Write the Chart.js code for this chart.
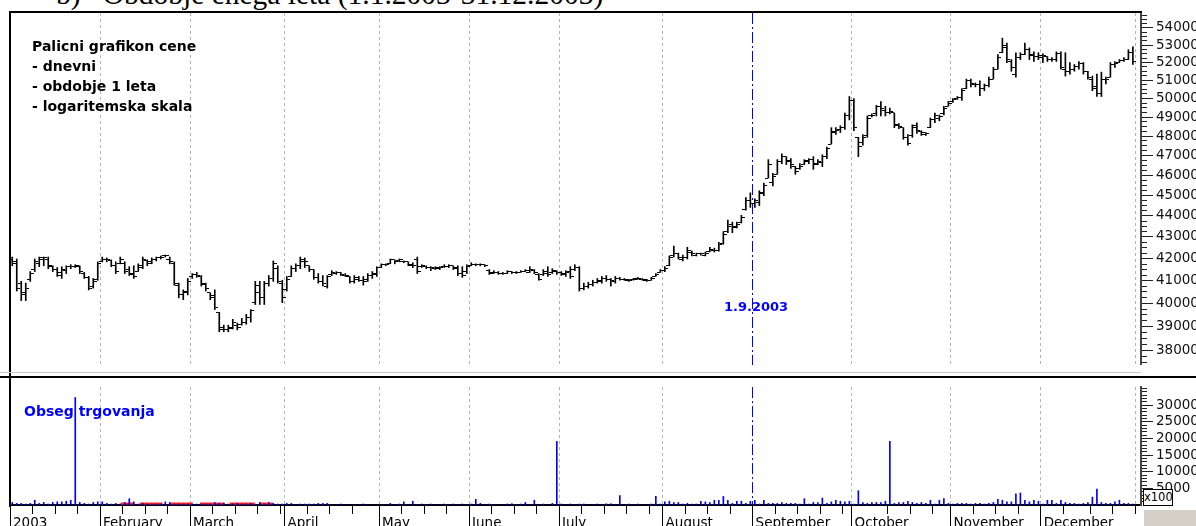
<!DOCTYPE html>
<html>
<head>
<meta charset="utf-8">
<script src="https://cdn.jsdelivr.net/npm/chart.js@4.4.1/dist/chart.umd.min.js"></script>
<style>
  html, body { margin: 0; padding: 0; background: #fff; }
  body { position: relative; width: 1196px; height: 526px; overflow: hidden; font-family: "DejaVu Sans", sans-serif; }
  canvas { position: absolute; left: 0; }
  #price { top: 0; }
  #volume { top: 376px; }
  .abs { position: absolute; white-space: pre; }
  #title { left: 56px; top: -22px; font: 29.5px "Liberation Serif", serif; color: #000; }
  #notes { left: 32px; top: 36px; font: bold 14px "DejaVu Sans", sans-serif; line-height: 20px; color: #000; }
  #volTitle { left: 24px; top: 403px; font: bold 14px "DejaVu Sans", sans-serif; color: #0000ff; }
  #eventText { left: 724px; top: 299px; font: bold 13px "DejaVu Sans", sans-serif; color: #0000ff; }
  .line { position: absolute; background: #000; }
  #scaleBox { left: 1143px; top: 489px; width: 28px; height: 15px; border: 1px solid #000; background: #fff; font: 11.5px "DejaVu Sans", sans-serif; line-height: 15px; text-align: center; }
  #corner { left: 1143px; top: 509px; width: 53px; height: 17px; background: #d4d0c8; border-top: 1px solid #fff; border-left: 1px solid #fff; }
</style>
</head>
<body>
<div id="title" class="abs">b)   Obdobje enega leta (1.1.2003-31.12.2003)</div>
<canvas id="price" width="1196" height="376"></canvas>
<canvas id="volume" width="1196" height="150"></canvas>
<div class="line" style="left:9px;top:11px;width:1133px;height:2px"></div>
<div class="line" style="left:9px;top:11px;width:2px;height:496px"></div>
<div class="line" style="left:0px;top:376px;width:1196px;height:2px;background:#000"></div>
<div class="line" style="left:0px;top:372px;width:1141px;height:1px;background:#c8c8c8"></div>
<div id="notes" class="abs">Palicni grafikon cene
- dnevni
- obdobje 1 leta
- logaritemska skala</div>
<div id="volTitle" class="abs">Obseg trgovanja</div>
<div id="eventText" class="abs">1.9.2003</div>
<div id="scaleBox" class="abs">x100</div>
<div id="corner" class="abs"></div>
<script>
// Trading-day index of the first session of each month, with the axis label
const monthStarts = [0, 20, 40, 61, 82, 102, 122, 145, 165, 187, 209, 229];
const monthNames = ['2003', 'February', 'March', 'April', 'May', 'June', 'July',
  'August', 'September', 'October', 'November', 'December'];
// Weekly tick positions on the time axis (trading-day index)
const weekTicks = [5, 10, 15, 25, 30, 35, 45, 50, 55, 60, 66, 71, 76, 87, 92, 97, 107, 112, 117,
  127, 132, 137, 142, 150, 155, 160, 170, 175, 180, 185, 195, 200, 205, 214, 219, 224, 234, 240, 245];
const yearEnd = 250;
const eventDay = 165;   // 1.9.2003

// Daily prices (OHLC)
const open = [
  41980,41760,40890,40370,41060,41500,41760,42030,41940,41630,41500,41230,41450,41630,41630,41630,41320,41150,40720,41060,
  41850,41980,41890,41670,41760,41760,41500,41280,41410,41590,41890,41850,41940,42030,42120,41980,41760,40800,40370,40500,
  41190,41280,41190,40840,40460,40330,39610,38980,38860,38980,39060,39100,39190,39400,40030,40460,40240,40890,41100,41540,40890,
  40590,41190,41540,41670,41850,41670,41500,41150,40970,40760,41280,41320,41370,41230,41190,40970,41060,41020,41060,41230,41280,
  41590,41720,41760,41940,41890,41850,41850,41670,41980,41630,41630,41590,41540,41590,41630,41630,41670,41540,41320,41410,
  41670,41720,41720,41720,41450,41370,41370,41320,41320,41410,41370,41370,41410,41370,41450,41280,41280,41320,41370,41410,
  41370,41280,41410,41500,41590,40670,40760,40840,40930,40970,41100,41060,40970,41100,41060,41020,41060,41100,41060,41020,41020,41190,41370,
  41450,41670,42120,42210,41980,42030,42300,42160,42210,42160,42340,42390,42390,42700,43250,43570,43480,43660,44310,44740,
  44590,44640,45120,45850,45650,46040,46680,46930,46680,46430,46340,46530,46730,46780,46580,46630,46930,47580,48230,48340,48440,49060,
  49900,47930,47680,48030,49060,49170,49580,49370,49270,49220,48590,48440,47930,48030,48540,48230,48080,48440,48850,48950,49170,49580,
  49840,50000,50060,50540,50970,50750,50750,50540,50700,51070,51620,52560,52960,52060,51350,52280,52450,52730,52450,52340,
  52280,52340,52170,52170,52500,51620,51510,51620,51780,51950,51510,51070,50640,50270,51070,51180,51890,52000,52110,52170,52560
];
const high = [
  42070,41980,40970,40890,41410,41980,42070,42070,42070,41670,41590,41630,41670,41720,41720,41670,41370,41190,41100,41850,
  42070,42030,41940,41850,42070,41850,41630,41670,41760,42070,41940,42030,42070,42120,42160,42070,41850,40890,40590,41100,
  41320,41370,41230,40890,40460,40590,39610,39060,39060,39310,39150,39350,39520,39730,40970,40970,40970,41230,41890,41670,41020,
  41190,41670,41760,42070,42030,41670,41500,41320,41230,41230,41450,41410,41370,41320,41190,41230,41190,41190,41320,41410,41630,
  41760,41760,41980,41940,41980,41890,41850,41810,42070,41720,41670,41630,41630,41630,41720,41720,41670,41670,41630,41720,
  41810,41760,41760,41720,41500,41450,41410,41370,41450,41410,41410,41450,41500,41630,41500,41320,41500,41630,41540,41450,
  41410,41450,41630,41720,41630,40890,40930,41020,41100,41190,41230,41100,41190,41150,41100,41060,41100,41150,41100,41060,41150,41320,41500,
  41630,42120,42570,42250,42160,42520,42340,42250,42250,42300,42520,42480,42750,43250,43800,43700,43700,44030,44880,45120,
  44830,45220,45600,46780,46090,46780,47080,46930,46830,46430,46580,46780,46830,46930,46780,47030,47430,48440,48440,48540,49220,50110,
  50000,47930,48080,49060,49170,49630,49840,49580,49480,49220,48650,48440,48080,48590,48700,48280,48180,48950,49220,49110,49580,49840,
  50000,50110,50540,51070,51070,50860,50970,50800,51180,51730,52450,53400,53120,52170,52560,52560,53120,52840,52610,52560,
  52500,52340,52280,52610,52610,52560,52000,51890,52060,52000,51510,51240,51350,51460,51180,52000,52060,52170,52280,52730,52900
];
const low = [
  41670,40540,40120,40120,40970,41410,41630,41670,41540,41410,41190,41100,41320,41540,41590,41320,41100,40590,40670,41020,
  41850,41850,41630,41320,41760,41320,41230,41100,41410,41540,41670,41760,41890,41980,42070,41760,40800,40240,40160,40370,
  41100,41150,40760,40540,40160,39730,38780,38780,38780,38900,38860,39060,39100,39190,39950,39950,39950,40760,40970,40890,40030,
  40540,41190,41410,41540,41590,41410,41060,40890,40760,40670,41230,41280,41230,41190,40890,40890,40970,40800,40970,41100,41190,
  41590,41670,41760,41760,41850,41810,41670,41590,41320,41590,41540,41450,41500,41500,41590,41590,41500,41230,41150,41320,
  41670,41670,41670,41630,41280,41320,41280,41280,41320,41320,41320,41370,41410,41370,41320,41020,41230,41190,41320,41280,
  41230,41190,41100,41450,40540,40590,40670,40760,40890,40890,40970,40760,40890,41020,41020,40970,41020,41060,41020,40970,41020,41190,41370,
  41410,41670,42070,41980,41890,41980,42120,42120,42160,42120,42300,42300,42340,42660,43200,43200,43430,43660,44270,44410,
  44410,44500,44980,45850,45460,46040,46580,46530,46340,46040,46290,46530,46580,46290,46530,46430,46830,47580,48080,48180,48340,48850,
  48280,46930,47530,47930,49010,49060,49060,49060,49170,48440,48390,47830,47530,47930,48130,48030,48030,48440,48700,48800,49110,49580,
  49790,49950,49900,50540,50640,50640,50160,50430,50640,51070,51620,52560,52000,51510,51180,52170,52450,52170,52060,52170,
  52000,52060,52060,52060,51620,51240,51350,51510,51620,51350,51070,50430,50110,50110,50800,51180,51730,52000,52060,52170,51890
];
const close = [
  41850,40630,40460,40670,41320,41850,41980,42030,41670,41500,41370,41500,41630,41630,41670,41410,41150,40670,40970,41760,
  41980,41940,41670,41410,41940,41410,41320,41190,41670,41980,41760,41940,42030,42070,42120,41850,40890,40370,40460,40970,
  41280,41230,40890,40630,40240,39820,38860,38860,38900,39190,38980,39190,39400,39690,40800,40240,40890,41100,41760,40970,40240,
  41060,41540,41670,41940,41850,41500,41150,40970,40890,41190,41370,41370,41280,41230,40970,41150,41020,40970,41230,41320,41590,
  41720,41720,41940,41850,41940,41850,41720,41670,41410,41670,41590,41590,41540,41590,41630,41670,41590,41320,41230,41630,
  41720,41720,41720,41670,41320,41370,41320,41320,41410,41370,41370,41410,41450,41500,41370,41060,41410,41280,41450,41370,
  41320,41370,41190,41590,40630,40760,40840,40930,41020,41100,41060,41020,41100,41060,41060,41020,41060,41100,41060,41020,41100,41280,41450,
  41540,42030,42210,42070,42070,42390,42210,42210,42210,42250,42430,42390,42660,43110,43480,43430,43610,43940,44740,44590,
  44740,45070,45460,46530,45940,46680,46930,46730,46530,46190,46430,46680,46780,46530,46680,46930,47330,48180,48280,48440,49060,49900,
  48440,47430,47930,48950,49110,49580,49480,49270,49320,48540,48490,47930,47630,48440,48280,48180,48130,48850,49110,49010,49480,49740,
  49950,50060,50430,50970,50800,50750,50540,50700,51070,51620,52280,52840,52170,51730,52280,52450,52730,52390,52340,52390,
  52390,52170,52170,52500,51730,51510,51620,51780,51950,51510,51180,50540,50270,51070,51070,51890,51950,52110,52170,52560,52060
];
// Daily turnover, in hundreds
const volume = [
  760,480,480,290,480,1430,480,760,290,760,950,950,1140,1430,32300,760,480,290,760,950,
  950,480,290,480,290,760,1900,950,290,480,290,290,290,290,950,760,290,290,290,290,
  290,290,290,290,290,760,480,480,290,290,480,290,290,480,290,760,290,760,480,290,290,
  480,480,0,290,290,290,290,480,480,480,0,0,290,0,0,0,0,290,0,0,0,
  0,0,480,0,290,950,0,1140,0,290,0,290,0,0,290,0,290,0,290,0,
  290,1710,480,0,290,0,0,0,290,380,0,290,760,0,1430,0,290,0,480,19100,
  290,0,290,0,290,290,0,0,290,0,380,380,0,2860,0,290,0,290,0,0,290,2570,290,
  950,1140,760,760,290,480,290,290,1140,950,760,1430,1430,2570,1430,480,1140,1140,480,1140,
  1430,290,1430,480,480,480,760,480,480,480,290,1900,290,760,760,2090,480,950,1430,1140,950,1140,
  290,4290,760,480,760,760,760,1140,19100,480,760,760,1140,760,480,760,480,1430,290,1430,1900,480,
  290,480,480,480,290,480,480,290,480,760,1710,1430,950,950,3330,3610,1430,950,1430,1140,
  290,1430,1430,480,1430,760,480,480,290,480,760,2380,4760,760,480,480,950,1430,480,480,290
];
// Sessions without regular trading (from, to), trading-day index
const quietPeriods = [[24.6, 27.7], [28.8, 33.9], [35.5, 40.6], [42.2, 47.7], [48.8, 54.4], [55.5, 58.4]];
const quietLevel = 480;

// Axis ticks
const priceMajor = [38000,39000,40000,41000,42000,43000,44000,45000,46000,47000,48000,49000,50000,51000,52000,53000,54000];
const volumeMajor = [5000, 10000, 15000, 20000, 25000, 30000];

const X_MAX = 251.3;
const PRICE_MIN = 37405, PRICE_MAX = 54885;
const VOL_MAX = 35430;
const AXIS_FONT = { family: 'DejaVu Sans', size: 13.5 };

function tickMark(side) {
  const c = document.createElement('canvas');
  c.width = 7; c.height = 1;
  const g = c.getContext('2d');
  g.fillStyle = '#000';
  if (side < 0) g.fillRect(0, 0, 3, 1); else g.fillRect(4, 0, 3, 1);
  return c;
}
const openMark = tickMark(-1), closeMark = tickMark(1);

const gridDays = monthStarts.filter(d => d > 0).concat([yearEnd]);
const tickValue = c => (c && c.tick) ? c.tick.value : null;
const isMajor = c => !!(c && c.tick && c.tick.major);
const gridColor = c => {
  const v = tickValue(c);
  if (v === eventDay) return '#0000ff';
  return gridDays.includes(v) ? '#b4b4b4' : 'rgba(0,0,0,0)';
};
const gridDash = c => tickValue(c) === eventDay ? [11, 3, 2, 3] : [3, 3];

function priceTicks() {
  const t = [];
  for (let v = 37500; v <= 54750; v += 250) t.push({ value: v, major: priceMajor.includes(v) });
  return t;
}
function volumeTicks() {
  const t = [];
  for (let v = 1000; v <= 35000; v += 1000) t.push({ value: v, major: volumeMajor.includes(v) });
  return t;
}
function timeTicks() {
  const vals = Array.from(new Set(monthStarts.concat(weekTicks, [yearEnd]))).sort((a, b) => a - b);
  return vals.map(v => ({ value: v, major: monthStarts.includes(v) }));
}

const common = {
  responsive: false,
  animation: false,
  events: [],
  plugins: { legend: { display: false }, tooltip: { enabled: false } }
};

// Price panel
new Chart(document.getElementById('price'), {
  type: 'bar',
  data: {
    datasets: [
      {
        type: 'bar',
        data: low.map((l, i) => ({ x: i + 0.5, y: [l, high[i]] })),
        backgroundColor: '#000',
        barThickness: 1,
        grouped: false,
        order: 2
      },
      {
        type: 'scatter',
        data: open.map((v, i) => ({ x: i + 0.5, y: v })),
        pointStyle: openMark, pointRadius: 3, order: 1
      },
      {
        type: 'scatter',
        data: close.map((v, i) => ({ x: i + 0.5, y: v })),
        pointStyle: closeMark, pointRadius: 3, order: 1
      }
    ]
  },
  options: Object.assign({}, common, {
    layout: { padding: { left: 10, top: 13, right: 0, bottom: 2 } },
    scales: {
      x: {
        type: 'linear', min: 0, max: X_MAX, offset: false,
        afterBuildTicks: s => { s.ticks = gridDays.map(v => ({ value: v })); },
        afterFit: s => { s.height = 0; },
        ticks: { display: false },
        grid: { offset: false, drawTicks: false, lineWidth: 1, color: gridColor },
        border: { display: false, dash: gridDash }
      },
      y: {
        type: 'logarithmic', position: 'right', min: PRICE_MIN, max: PRICE_MAX,
        afterBuildTicks: s => { s.ticks = priceTicks(); },
        afterFit: s => { s.width = 55; },
        ticks: {
          autoSkip: false, padding: 3, color: '#111', font: AXIS_FONT,
          callback: (v, i, t) => (t[i] && t[i].major) ? String(v) : ''
        },
        grid: {
          drawOnChartArea: false, tickLength: 12, tickColor: '#222', tickWidth: 1,
          tickBorderDash: c => isMajor(c) ? [] : [5, 40]
        },
        border: { display: true, color: '#444', width: 2 }
      }
    }
  })
});

// Turnover panel
const quietData = [];
quietPeriods.forEach(([a, b]) => {
  quietData.push({ x: a, y: quietLevel }, { x: b, y: quietLevel }, { x: b + 0.01, y: null });
});

new Chart(document.getElementById('volume'), {
  type: 'bar',
  data: {
    datasets: [
      {
        type: 'line',
        data: quietData,
        borderColor: '#ff2020', borderWidth: 2, pointRadius: 0, spanGaps: false, order: 2
      },
      {
        type: 'bar',
        data: volume.map((v, i) => ({ x: i + 0.5, y: v })),
        backgroundColor: '#0000ff',
        barThickness: 1,
        grouped: false,
        order: 1
      }
    ]
  },
  options: Object.assign({}, common, {
    layout: { padding: { left: 10, top: 5, right: 0, bottom: 0 } },
    scales: {
      x: {
        type: 'linear', min: 0, max: X_MAX, offset: false,
        afterBuildTicks: s => { s.ticks = timeTicks(); },
        afterFit: s => { s.height = 21; },
        ticks: {
          autoSkip: false, maxRotation: 0, minRotation: 0, align: 'start', labelOffset: 3,
          padding: -11, color: '#000', font: { family: 'DejaVu Sans', size: 13.5 },
          callback: (v, i, t) => (t[i] && t[i].major) ? monthNames[monthStarts.indexOf(v)] : ''
        },
        grid: {
          offset: false, lineWidth: 1, tickLength: 21, tickColor: '#000', tickWidth: 1,
          color: gridColor,
          tickBorderDash: c => isMajor(c) ? [] : [8, 40]
        },
        border: { display: true, color: '#000', width: 2, dash: gridDash }
      },
      y: {
        type: 'linear', position: 'right', min: 0, max: VOL_MAX,
        afterBuildTicks: s => { s.ticks = volumeTicks(); },
        afterFit: s => { s.width = 55; },
        ticks: {
          autoSkip: false, padding: 3, color: '#111', font: AXIS_FONT,
          callback: (v, i, t) => (t[i] && t[i].major) ? String(v) : ''
        },
        grid: {
          drawOnChartArea: false, tickLength: 12, tickColor: '#222', tickWidth: 1,
          tickBorderDash: c => isMajor(c) ? [] : [5, 40]
        },
        border: { display: true, color: '#444', width: 2 }
      }
    }
  })
});
</script>
</body>
</html>
